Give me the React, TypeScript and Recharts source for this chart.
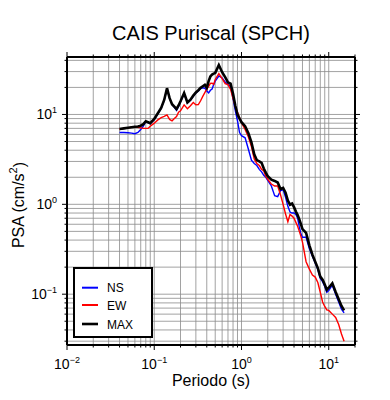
import React from 'react';
import { LineChart, Line, XAxis, YAxis, CartesianGrid, Legend, Label } from 'recharts';

const TITLE = 'CAIS Puriscal (SPCH)';
const X_TITLE = 'Periodo (s)';

const PERIODS = [0.04, 0.045, 0.05, 0.055, 0.06, 0.065, 0.07, 0.075, 0.08, 0.085, 0.09,
  0.1, 0.11, 0.12, 0.13, 0.14, 0.15, 0.16, 0.17, 0.18, 0.19, 0.2,
  0.22, 0.24, 0.26, 0.28, 0.3, 0.32, 0.34, 0.36, 0.38, 0.4, 0.42, 0.44, 0.46, 0.48, 0.5,
  0.55, 0.6, 0.65, 0.7, 0.75, 0.8, 0.85, 0.9, 0.95, 1.0,
  1.1, 1.2, 1.3, 1.4, 1.5, 1.6, 1.7, 1.8, 1.9, 2.0,
  2.2, 2.4, 2.6, 2.8, 3.0, 3.2, 3.4, 3.6, 3.8, 4.0, 4.2, 4.4, 4.6, 4.8, 5.0,
  5.5, 6.0, 6.5, 7.0, 7.5, 8.0, 8.5, 9.0, 9.5, 10,
  11, 12, 13, 14, 15];

const NS = [6.3, 6.3, 6.25, 6.2, 6.1, 6.3, 6.8, 7.4, 8.3, 8.1, 7.9,
  8.8, 10.2, 11.7, 14.4, 19.5, 15.1, 12.9, 12.0, 11.1, 12.3, 13.8,
  17.1, 13.4, 14.4, 15.9, 17.3, 18.3, 19.4, 19.8, 19.6, 18.2, 17.4, 18.6, 19.2, 21.5, 23.5,
  26.8, 25.5, 23.0, 21.5, 20.5, 15.0, 11.0, 8.5, 6.3, 5.8,
  5.5, 4.1, 3.1, 2.85, 2.7, 2.45, 2.3, 2.1, 2.0, 1.85,
  1.6, 1.25, 1.22, 1.42, 1.45, 1.2, 0.95, 0.82, 0.8, 0.8, 0.77, 0.7, 0.56, 0.47, 0.43,
  0.43, 0.32, 0.265, 0.222, 0.188, 0.15, 0.138, 0.122, 0.105, 0.11,
  0.126, 0.1, 0.082, 0.068, 0.062];

const EW = [6.9, 7.0, 7.1, 7.2, 7.2, 7.2, 7.1, 7.0, 7.0, 7.0, 7.4,
  8.0, 8.7, 9.2, 9.5, 9.9, 8.8, 8.5, 9.0, 9.5, 10.6, 11.0,
  12.8, 11.6, 12.5, 13.6, 12.8, 12.9, 14.2, 15.9, 17.5, 19.2, 20.5, 22.2, 22.3, 21.6, 24.5,
  28.5, 25.0, 22.0, 21.5, 19.0, 15.0, 12.3, 10.6, 9.2, 8.1,
  6.8, 5.6, 4.4, 3.2, 2.85, 2.7, 2.45, 2.35, 2.05, 1.9,
  1.68, 1.6, 1.6, 1.28, 1.0, 0.78, 0.64, 0.77, 0.74, 0.7, 0.63, 0.57, 0.5, 0.44, 0.38,
  0.23, 0.19, 0.163, 0.155, 0.135, 0.105, 0.082, 0.073, 0.067, 0.066,
  0.06, 0.055, 0.046, 0.036, 0.030];

const MAX = [6.9, 7.0, 7.1, 7.2, 7.3, 7.35, 7.5, 7.8, 8.4, 8.2, 8.0,
  8.9, 10.3, 11.8, 14.5, 19.6, 15.2, 13.0, 12.2, 11.5, 12.6, 14.0,
  17.3, 13.6, 14.6, 16.2, 17.6, 18.6, 19.8, 20.6, 21.4, 19.8, 23.5, 26.5, 27.8, 28.5, 29.0,
  35.5, 29.5, 26.0, 22.8, 22.0, 17.0, 12.5, 10.0, 9.0, 8.2,
  7.4, 6.2, 4.9, 3.6, 3.1, 3.0, 2.9, 2.5, 2.25, 2.05,
  1.88, 1.82, 1.75, 1.48, 1.52, 1.35, 1.1, 0.99, 1.02, 0.93, 0.83, 0.76, 0.68, 0.6, 0.53,
  0.48, 0.35, 0.275, 0.23, 0.195, 0.157, 0.145, 0.128, 0.112, 0.118,
  0.132, 0.106, 0.088, 0.074, 0.066];

const X_TICKS = [0.01, 0.02, 0.03, 0.04, 0.05, 0.06, 0.07, 0.08, 0.09,
  0.1, 0.2, 0.3, 0.4, 0.5, 0.6, 0.7, 0.8, 0.9,
  1, 2, 3, 4, 5, 6, 7, 8, 9, 10, 20];
const Y_TICKS = [0.03, 0.04, 0.05, 0.06, 0.07, 0.08, 0.09,
  0.1, 0.2, 0.3, 0.4, 0.5, 0.6, 0.7, 0.8, 0.9,
  1, 2, 3, 4, 5, 6, 7, 8, 9, 10, 20, 30, 40];
const X_DOMAIN = [0.01, 20];
const Y_DOMAIN = [0.0272, 43.6];

const SERIES = [
  { key: 'NS', name: 'NS', color: '#0000ff', width: 1.4 },
  { key: 'EW', name: 'EW', color: '#ff0000', width: 1.4 },
  { key: 'MAX', name: 'MAX', color: '#000000', width: 2.6 },
];

const FONT = '"Liberation Sans", Arial, Helvetica, sans-serif';

const data = PERIODS.map((T, i) => ({ T, NS: NS[i], EW: EW[i], MAX: MAX[i] }));

const isMajor = (v: number) => {
  const l = Math.log10(v);
  return Math.abs(l - Math.round(l)) < 1e-6;
};
const expText = (v: number) => {
  const e = Math.round(Math.log10(v));
  return e < 0 ? '\u2212' + String(-e) : String(e);
};

const PowLabel = ({ x, y, anchor, v }: any) => (
  <text x={x} y={y} textAnchor={anchor} fontSize={14} fill="#000" fontFamily={FONT}>
    10<tspan dy={-6} fontSize={9}>{expText(v)}</tspan>
  </text>
);

const BottomTick = (p: any) => {
  const { x, y, payload } = p;
  const maj = isMajor(payload.value);
  return (
    <g>
      <line x1={x} x2={x} y1={y} y2={y + (maj ? 5 : 2.5)} stroke="#000" strokeWidth={1} />
      {maj && <PowLabel x={x} y={y + 24} anchor="middle" v={payload.value} />}
    </g>
  );
};
const TopTick = (p: any) => {
  const { x, y, payload } = p;
  const maj = isMajor(payload.value);
  return <line x1={x} x2={x} y1={y} y2={y - (maj ? 5 : 2.5)} stroke="#000" strokeWidth={1} />;
};
const LeftTick = (p: any) => {
  const { x, y, payload } = p;
  const maj = isMajor(payload.value);
  return (
    <g>
      <line x1={x} x2={x - (maj ? 5 : 2.5)} y1={y} y2={y} stroke="#000" strokeWidth={1} />
      {maj && <PowLabel x={x - 10} y={y + 5} anchor="end" v={payload.value} />}
    </g>
  );
};
const RightTick = (p: any) => {
  const { x, y, payload } = p;
  const maj = isMajor(payload.value);
  return <line x1={x} x2={x + (maj ? 5 : 2.5)} y1={y} y2={y} stroke="#000" strokeWidth={1} />;
};

const LegendBox = () => (
  <div style={{ width: 80, height: 71, boxSizing: 'border-box', border: '2px solid #000', background: '#fff' }}>
    <svg width={76} height={67} style={{ display: 'block' }}>
      {SERIES.map((s, i) => {
        const yy = [18.7, 36, 55][i];
        return (
          <g key={s.key}>
            <line x1={7} x2={23} y1={yy} y2={yy} stroke={s.color} strokeWidth={s.key === 'MAX' ? 2.6 : 2} />
            <text x={32} y={yy + 4.5} fontSize={12} fontFamily={FONT} fill="#000">{s.name}</text>
          </g>
        );
      })}
    </svg>
  </div>
);

export default function App() {
  return (
    <LineChart width={382} height={392} data={data} margin={{ top: 39, right: 25, bottom: 15, left: 9 }}>
      <CartesianGrid stroke="#8a8a8a" strokeWidth={0.8} />
      <XAxis dataKey="T" type="number" scale="log" domain={X_DOMAIN} allowDataOverflow ticks={X_TICKS}
        interval={0} height={40} tickSize={0} tickMargin={0} tickLine={false} tick={<BottomTick />}
        axisLine={{ stroke: '#000', strokeWidth: 2 }}>
        <Label content={(p: any) => {
          const vb = p.viewBox || { x: 59, y: 337, width: 288 };
          return <text x={vb.x + vb.width / 2} y={vb.y + 41} textAnchor="middle" fontSize={16} fontFamily={FONT} fill="#000">{X_TITLE}</text>;
        }} />
      </XAxis>
      <XAxis xAxisId="top" orientation="top" dataKey="T" type="number" scale="log" domain={X_DOMAIN} allowDataOverflow
        ticks={X_TICKS} interval={0} height={10} tickSize={0} tickMargin={0} tickLine={false} tick={<TopTick />}
        axisLine={{ stroke: '#000', strokeWidth: 2 }}>
        <Label content={(p: any) => {
          const vb = p.viewBox || { x: 59, y: 39, width: 288 };
          return <text x={vb.x + vb.width / 2} y={vb.y - 7} textAnchor="middle" fontSize={20} fontFamily={FONT} fill="#000">{TITLE}</text>;
        }} />
      </XAxis>
      <YAxis type="number" scale="log" domain={Y_DOMAIN} allowDataOverflow ticks={Y_TICKS} interval={0} width={50}
        tickSize={0} tickMargin={0} tickLine={false} tick={<LeftTick />} axisLine={{ stroke: '#000', strokeWidth: 2 }}>
        <Label content={(p: any) => {
          const vb = p.viewBox || { x: 9, y: 49, width: 50, height: 288 };
          const cx = vb.x + 1.5;
          const cy = vb.y + vb.height / 2 + 4;
          return (
            <text x={cx} y={cy} transform={`rotate(-90 ${cx} ${cy})`} textAnchor="middle" dominantBaseline="central"
              fontSize={16} fontFamily={FONT} fill="#000">
              PSA (cm/s<tspan dy={-6} fontSize={11}>2</tspan><tspan dy={6}>)</tspan>
            </text>
          );
        }} />
      </YAxis>
      <YAxis yAxisId="right" orientation="right" type="number" scale="log" domain={Y_DOMAIN} allowDataOverflow
        ticks={Y_TICKS} interval={0} width={10} tickSize={0} tickMargin={0} tickLine={false} tick={<RightTick />}
        axisLine={{ stroke: '#000', strokeWidth: 2 }} />
      <Legend layout="horizontal" verticalAlign="middle" align="center" content={<LegendBox />}
        wrapperStyle={{ position: 'absolute', left: 65, top: 259, width: 80, height: 71 }} />
      {SERIES.map((s) => (
        <Line key={s.key} type="linear" dataKey={s.key} name={s.name} stroke={s.color} strokeWidth={s.width}
          dot={false} activeDot={false} isAnimationActive={false} />
      ))}
    </LineChart>
  );
}
